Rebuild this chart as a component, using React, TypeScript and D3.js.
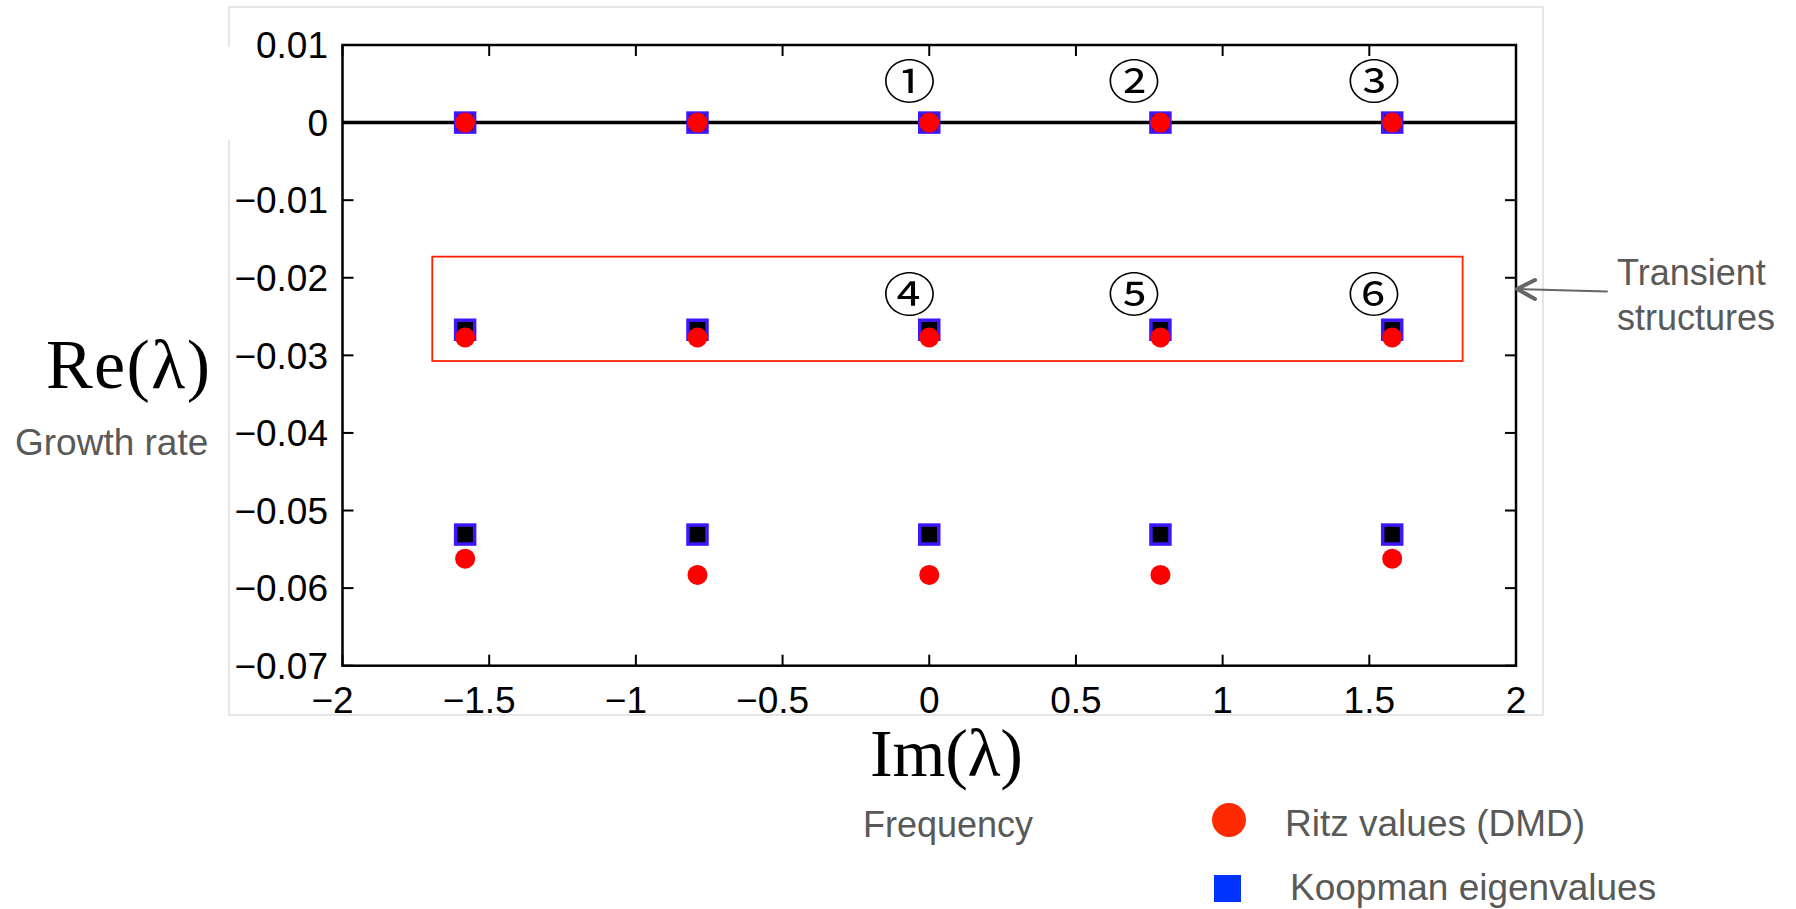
import React from "react";
import * as d3 from "d3";

// eigenvalue spectrum: Im(lambda) vs Re(lambda)
const W = 1796;
const H = 909;
const plot = { left: 342.5, right: 1516, top: 45, bottom: 665.7 };

const frequencies = [-1.582, -0.79, 0, 0.788, 1.578];
const koopmanGrowth = [0, -0.0267, -0.0531];
const ritzGrowth = [
  [0, 0, 0, 0, 0],
  [-0.0277, -0.0277, -0.0277, -0.0277, -0.0277],
  [-0.0562, -0.0583, -0.0583, -0.0583, -0.0562],
];

const xTicks = [-2, -1.5, -1, -0.5, 0, 0.5, 1, 1.5, 2];
const xTickLabels = ["−2", "−1.5", "−1", "−0.5", "0", "0.5", "1", "1.5", "2"];
const yTicks = [0.01, 0, -0.01, -0.02, -0.03, -0.04, -0.05, -0.06, -0.07];
const yTickLabels = ["0.01", "0", "−0.01", "−0.02", "−0.03", "−0.04", "−0.05", "−0.06", "−0.07"];

// circled mode numbers (data coords)
const modeLabels = ["①", "②", "③", "④", "⑤", "⑥"];
const modeX = [-0.067, 0.698, 1.516, -0.067, 0.698, 1.516];
const modeY = [0.0053, 0.0053, 0.0053, -0.0221, -0.0221, -0.0221];

// transient box (data coords)
const boxX = [-1.694, 1.818];
const boxY = [-0.01728, -0.03073];

const sans = "'Liberation Sans', Arial, Helvetica, sans-serif";
const serif = "'Liberation Serif', 'Times New Roman', serif";
const gray = "#595959";

export default function App() {
  const x = d3.scaleLinear().domain([-2, 2]).range([plot.left, plot.right]);
  const y = d3.scaleLinear().domain([-0.07, 0.01]).range([plot.bottom, plot.top]);
  const tl = 11;

  const koopman = koopmanGrowth.flatMap((g) => frequencies.map((f) => ({ f, g })));
  const ritz = ritzGrowth.flatMap((row) => row.map((g, i) => ({ f: frequencies[i], g })));

  return (
    <svg width={W} height={H} style={{ position: "absolute", left: 0, top: 0, background: "#fff" }}>
      {/* figure frame */}
      <g stroke="#dcdcdc" strokeWidth={1.5} fill="none">
        <line x1={229} y1={7} x2={1543} y2={7} />
        <line x1={1543} y1={7} x2={1543} y2={715} />
        <line x1={229} y1={715} x2={1543} y2={715} />
        <line x1={229} y1={7} x2={229} y2={47} />
        <line x1={229} y1={140} x2={229} y2={715} />
      </g>

      {/* zero line */}
      <line x1={x(-2)} x2={x(2)} y1={y(0)} y2={y(0)} stroke="#000" strokeWidth={3.5} />

      {/* axes box */}
      <rect
        x={plot.left}
        y={plot.top}
        width={plot.right - plot.left}
        height={plot.bottom - plot.top}
        fill="none"
        stroke="#000"
        strokeWidth={2.5}
      />

      {/* ticks */}
      <g stroke="#000" strokeWidth={2}>
        {xTicks.map((t) => (
          <g key={"xt" + t}>
            <line x1={x(t)} x2={x(t)} y1={plot.bottom} y2={plot.bottom - tl} />
            <line x1={x(t)} x2={x(t)} y1={plot.top} y2={plot.top + tl} />
          </g>
        ))}
        {yTicks.map((t) => (
          <g key={"yt" + t}>
            <line x1={plot.left} x2={plot.left + tl} y1={y(t)} y2={y(t)} />
            <line x1={plot.right} x2={plot.right - tl} y1={y(t)} y2={y(t)} />
          </g>
        ))}
      </g>

      <g fontFamily={sans} fontSize={37} fill="#000">
        {xTicks.map((t, i) => (
          <text key={"xl" + t} x={x(t)} y={713} textAnchor="middle" dx={t < 0 ? -10 : 0}>
            {xTickLabels[i]}
          </text>
        ))}
        {yTicks.map((t, i) => (
          <text key={"yl" + t} x={328} y={y(t)} dy="0.36em" textAnchor="end">
            {yTickLabels[i]}
          </text>
        ))}
      </g>

      {/* Koopman eigenvalues */}
      {koopman.map((d, i) => (
        <rect
          key={"k" + i}
          x={x(d.f) - 9.5}
          y={y(d.g) - 9.5}
          width={19}
          height={19}
          fill="#000"
          stroke="#3f17ff"
          strokeWidth={3.5}
        />
      ))}

      {/* Ritz values */}
      {ritz.map((d, i) => (
        <circle key={"r" + i} cx={x(d.f)} cy={y(d.g)} r={10} fill="#ff0000" />
      ))}

      {/* mode numbers */}
      <g fontFamily="'Noto Sans CJK JP', 'DejaVu Sans', sans-serif" fontSize={50} fill="#000">
        {modeLabels.map((m, i) => (
          <text
            key={m}
            x={x(modeX[i])}
            y={y(modeY[i])}
            dy="0.36em"
            textAnchor="middle"
            transform={`translate(${x(modeX[i])},${y(modeY[i])}) scale(1.05,0.92) translate(${-x(modeX[i])},${-y(modeY[i])})`}
          >
            {m}
          </text>
        ))}
      </g>

      {/* transient box */}
      <rect
        x={x(boxX[0])}
        y={y(boxY[0])}
        width={x(boxX[1]) - x(boxX[0])}
        height={y(boxY[1]) - y(boxY[0])}
        fill="none"
        stroke="#ff2200"
        strokeWidth={1.8}
      />

      {/* arrow to box */}
      <g stroke="#666" fill="none" strokeLinecap="round" strokeLinejoin="round">
        <line x1={1607} y1={291.5} x2={1517} y2={289} strokeWidth={2} />
        <polyline points="1535,280 1517,289 1535,299" strokeWidth={4} />
      </g>
      <g fontFamily={sans} fontSize={36} fill={gray}>
        <text x={1617} y={285}>Transient</text>
        <text x={1617} y={330}>structures</text>
      </g>

      {/* axis titles */}
      <text x={46} y={388} fontFamily={serif} fontSize={70} fill="#000" textLength={164}>
        Re(λ)
      </text>
      <text x={15} y={455} fontFamily={sans} fontSize={37} fill={gray}>
        Growth rate
      </text>
      <text x={870} y={776} fontFamily={serif} fontSize={68} fill="#000" textLength={153}>
        Im(λ)
      </text>
      <text x={863} y={837} fontFamily={sans} fontSize={36} fill={gray}>
        Frequency
      </text>

      {/* legend */}
      <circle cx={1229} cy={820} r={17} fill="#ff2a00" />
      <text x={1285} y={836} fontFamily={sans} fontSize={37} fill={gray}>
        Ritz values (DMD)
      </text>
      <rect x={1214} y={875} width={27} height={27} fill="#0033ff" />
      <text x={1290} y={900} fontFamily={sans} fontSize={37} fill={gray}>
        Koopman eigenvalues
      </text>
    </svg>
  );
}
